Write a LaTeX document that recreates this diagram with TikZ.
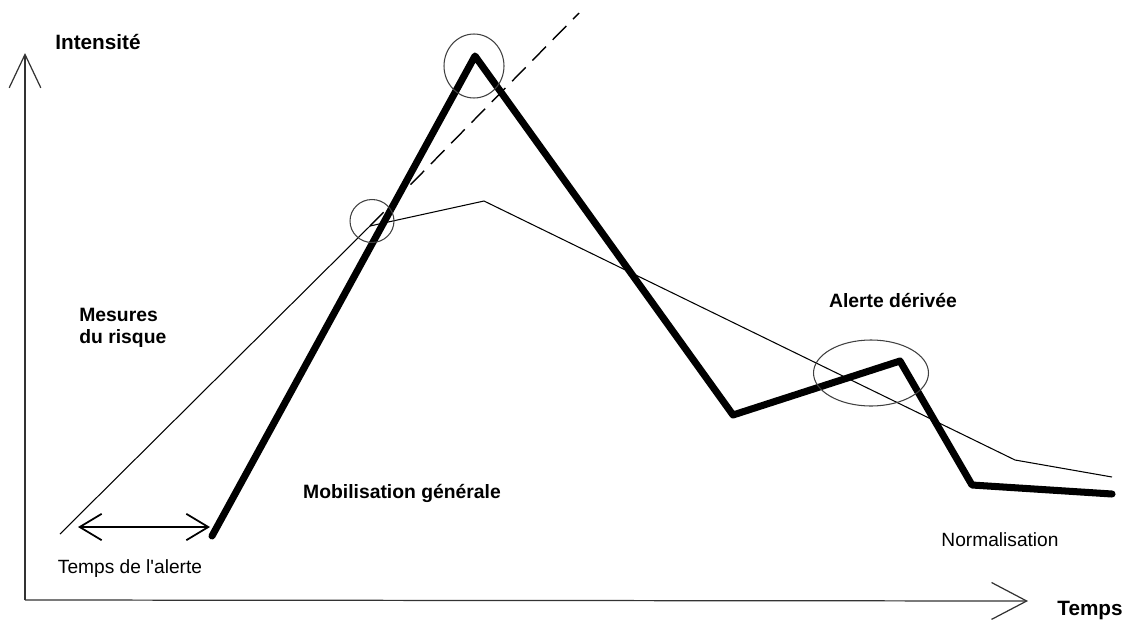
\documentclass[tikz,border=0pt]{standalone}
\usepackage{fontspec}
\setmainfont{Liberation Sans}
\usetikzlibrary{arrows.meta}

\begin{document}
\begin{tikzpicture}[x={(0.02cm,0)},y={(0,-0.02cm)},
  lbl/.style={inner sep=0pt,font=\fontsize{10.9}{13}\selectfont},
  blbl/.style={inner sep=0pt,font=\fontsize{11}{13}\selectfont\bfseries},
  axlbl/.style={inner sep=0pt,font=\fontsize{11.8}{14}\selectfont\bfseries},
  ring/.style={draw=black!75,line width=0.6pt}]
  \useasboundingbox (0,0) rectangle (1133,619);
  % axes
  \coordinate (o) at (25,600);
  \coordinate (ytop) at (25,53);
  \coordinate (xend) at (1028,601);
  \draw[black!80,line width=0.7pt,-{Straight Barb[length=19pt,width=18pt]}] (o) -- (ytop);
  \draw[black!80,line width=0.7pt,-{Straight Barb[length=20pt,width=21pt]}] (o) -- (xend);
  \node[axlbl,anchor=base] (intens) at (98,49) {Intensité};
  \node[axlbl,anchor=base] (temps) at (1090,615) {Temps};
  % mesures du risque (thin)
  \foreach \p/\x/\y in {r0/60/534, r1/370/226, r2/484/201, r3/1015/460, r4/1112/477}
    \coordinate (\p) at (\x,\y);
  \draw[line width=0.6pt] (r0) -- (r1) -- (r2) -- (r3) -- (r4);
  % mobilisation (thick)
  \foreach \p/\x/\y in {m0/212/536, m1/475/56, m2/733/415, m3/900/361, m4/972/485, m5/1112/494}
    \coordinate (\p) at (\x,\y);
  \draw[line width=4pt,line cap=round,line join=round] (m0) -- (m1) -- (m2) -- (m3) -- (m4) -- (m5);
  % projection
  \coordinate (proj) at (579,13);
  \draw[line width=0.8pt,dash pattern=on 11pt off 5.5pt] (r1) -- (proj);
  % circles
  \draw[ring] (474,66) ellipse [x radius=0.6cm,y radius=0.64cm];
  \draw[ring] (372,221) ellipse [x radius=0.44cm,y radius=0.43cm];
  \draw[ring] (871,373) ellipse [x radius=1.15cm,y radius=0.66cm];
  % temps de l'alerte
  \coordinate (t0) at (78,527);
  \coordinate (t1) at (210,527);
  \draw[line width=1pt,{Straight Barb[length=12.5pt,width=15pt]}-{Straight Barb[length=12.5pt,width=15pt]}] (t0) -- (t1);
  \node[lbl,anchor=base] (alerte) at (130,573) {Temps de l\textquotesingle alerte};
  \node[lbl,anchor=base] (normal) at (1000,546) {Normalisation};
  \node[blbl,anchor=base west] (mes) at (79,321) {Mesures};
  \node[blbl,anchor=base west] (risq) at (79,343) {du risque};
  \node[blbl,anchor=base] (mobil) at (402,498) {Mobilisation générale};
  \node[blbl,anchor=base] (deriv) at (893,307) {Alerte dérivée};
\end{tikzpicture}
\end{document}
